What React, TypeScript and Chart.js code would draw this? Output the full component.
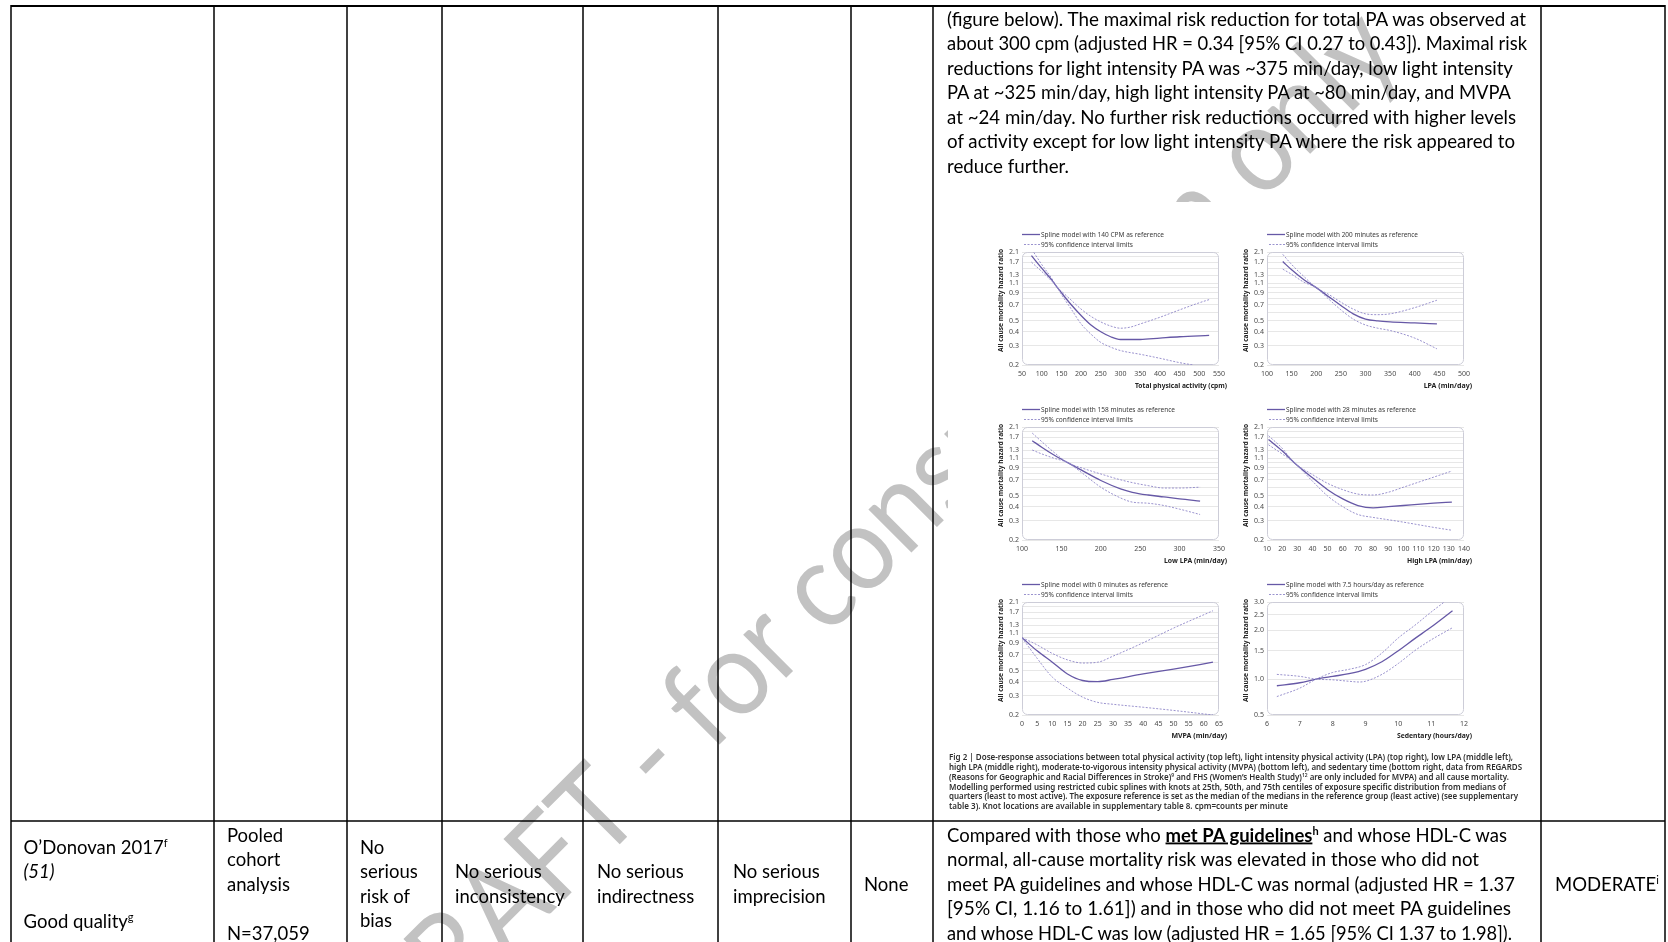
import React, { useEffect, useRef } from 'react';
import { Chart, registerables } from 'chart.js';

Chart.register(...registerables);
Chart.defaults.font.family = "'Noto Sans', 'DejaVu Sans', sans-serif";

// ---------- data ----------
const hrTickValues = [0.2, 0.3, 0.4, 0.5, 0.6, 0.7, 0.8, 0.9, 1.0, 1.1, 1.3, 1.5, 1.7, 1.9, 2.1];
const hrTickLabels = ['0.2', '0.3', '0.4', '0.5', '', '0.7', '', '0.9', '', '1.1', '1.3', '', '1.7', '', '2.1'];
const sedTickValues = [0.6, 1, 1.5, 2, 2.5, 3];
const sedTickLabels = ['0.5', '1.0', '1.5', '2.0', '2.5', '3.0'];

const tpaXTicks = [50, 100, 150, 200, 250, 300, 350, 400, 450, 500, 550];
const lpaXTicks = [100, 150, 200, 250, 300, 350, 400, 450, 500];
const lowXTicks = [100, 150, 200, 250, 300, 350];
const highXTicks = [10, 20, 30, 40, 50, 60, 70, 80, 90, 100, 110, 120, 130, 140];
const mvpaXTicks = [0, 5, 10, 15, 20, 25, 30, 35, 40, 45, 50, 55, 60, 65];
const sedXTicks = [6, 7, 8, 9, 10, 11, 12];

// Total physical activity (cpm)
const tpaX = [74, 100, 125, 140, 150, 175, 200, 225, 250, 275, 300, 350, 400, 450, 525];
const tpaSpline = [1.95, 1.5, 1.18, 1.0, 0.9, 0.7, 0.56, 0.46, 0.4, 0.36, 0.34, 0.34, 0.35, 0.36, 0.37];
const tpaUpX = [80, 100, 125, 140, 150, 175, 200, 225, 250, 275, 300, 325, 350, 400, 450, 500, 525];
const tpaUpper = [2.08, 1.62, 1.22, 1.0, 0.93, 0.77, 0.64, 0.55, 0.49, 0.45, 0.43, 0.44, 0.47, 0.54, 0.63, 0.73, 0.78];
const tpaLoX = [74, 100, 125, 140, 150, 175, 200, 225, 250, 275, 300, 350, 400, 450, 485];
const tpaLower = [1.7, 1.4, 1.15, 1.0, 0.87, 0.64, 0.47, 0.38, 0.32, 0.29, 0.27, 0.25, 0.23, 0.21, 0.2];

// LPA (min/day)
const lpaX = [132, 150, 175, 200, 225, 250, 275, 300, 325, 350, 400, 445];
const lpaSpline = [1.72, 1.45, 1.18, 1.0, 0.83, 0.69, 0.58, 0.52, 0.5, 0.49, 0.48, 0.47];
const lpaUpper = [2.0, 1.62, 1.26, 1.0, 0.87, 0.74, 0.64, 0.58, 0.57, 0.58, 0.66, 0.77];
const lpaLower = [1.47, 1.32, 1.12, 1.0, 0.79, 0.63, 0.52, 0.46, 0.43, 0.41, 0.35, 0.28];

// Low LPA (min/day)
const lowX = [113, 125, 140, 158, 175, 200, 225, 240, 260, 280, 300, 326];
const lowSpline = [1.58, 1.38, 1.18, 1.0, 0.86, 0.69, 0.58, 0.54, 0.51, 0.49, 0.47, 0.45];
const lowUpper = [1.85, 1.55, 1.25, 1.0, 0.9, 0.79, 0.7, 0.66, 0.62, 0.59, 0.59, 0.6];
const lowLower = [1.3, 1.2, 1.1, 1.0, 0.82, 0.6, 0.48, 0.44, 0.43, 0.41, 0.38, 0.34];

// High LPA (min/day)
const highX = [11, 20, 28, 40, 50, 60, 70, 80, 90, 100, 120, 132];
const highSpline = [1.62, 1.28, 1.0, 0.73, 0.57, 0.47, 0.41, 0.39, 0.4, 0.41, 0.43, 0.44];
const highUpper = [1.75, 1.35, 1.0, 0.78, 0.65, 0.57, 0.52, 0.51, 0.54, 0.6, 0.74, 0.84];
const highLower = [1.45, 1.2, 1.0, 0.68, 0.5, 0.4, 0.34, 0.32, 0.305, 0.29, 0.26, 0.245];

// MVPA (min/day)
const mvpaX = [0, 5, 10, 15, 20, 25, 30, 40, 50, 63];
const mvpaSpline = [1.0, 0.76, 0.6, 0.47, 0.41, 0.4, 0.42, 0.47, 0.52, 0.6];
const mvpaUpper = [1.0, 0.86, 0.72, 0.63, 0.59, 0.6, 0.68, 0.9, 1.22, 1.75];
const mvpaLower = [1.0, 0.65, 0.44, 0.35, 0.29, 0.26, 0.25, 0.235, 0.22, 0.2];

// Sedentary (hours/day)
const sedX = [6.3, 7, 7.5, 8, 8.5, 9, 9.5, 10, 10.5, 11, 11.65];
const sedSpline = [0.91, 0.95, 1.0, 1.04, 1.08, 1.15, 1.28, 1.5, 1.78, 2.1, 2.65];
const sedAX = [6.3, 7, 7.5, 8, 8.5, 9, 9.5, 10, 10.5, 11, 11.4];
const sedLimitA = [0.78, 0.88, 1.0, 1.1, 1.15, 1.23, 1.45, 1.8, 2.15, 2.6, 3.0];
const sedBX = [6.3, 7, 7.5, 8, 8.5, 8.8, 9, 9.5, 10, 10.5, 11, 11.65];
const sedLimitB = [1.07, 1.04, 1.0, 0.99, 0.97, 0.96, 0.97, 1.07, 1.25, 1.5, 1.75, 2.08];

const SOLID = '#6658a6';
const DASH = '#8f87c8';
const GRID = '#dcdcdc';
const TICK = '#4a4a4a';

type Cfg = {
  legend: string; legendW: number; xTitle: string; xTitleW: number;
  xMin: number; xMax: number; xTicks: number[];
  yMin: number; yMax: number; yTicks: number[]; yLabels: string[];
  s: [number[], number[]]; u: [number[], number[]]; l: [number[], number[]];
};

const chartCfgs: Cfg[] = [
  { legend: 'Spline model with 140 CPM as reference', legendW: 123, xTitle: 'Total physical activity (cpm)', xTitleW: 92,
    xMin: 50, xMax: 550, xTicks: tpaXTicks, yMin: 0.2, yMax: 2.1, yTicks: hrTickValues, yLabels: hrTickLabels,
    s: [tpaX, tpaSpline], u: [tpaUpX, tpaUpper], l: [tpaLoX, tpaLower] },
  { legend: 'Spline model with 200 minutes as reference', legendW: 132, xTitle: 'LPA (min/day)', xTitleW: 58,
    xMin: 100, xMax: 500, xTicks: lpaXTicks, yMin: 0.2, yMax: 2.1, yTicks: hrTickValues, yLabels: hrTickLabels,
    s: [lpaX, lpaSpline], u: [lpaX, lpaUpper], l: [lpaX, lpaLower] },
  { legend: 'Spline model with 158 minutes as reference', legendW: 134, xTitle: 'Low LPA (min/day)', xTitleW: 63,
    xMin: 100, xMax: 350, xTicks: lowXTicks, yMin: 0.2, yMax: 2.1, yTicks: hrTickValues, yLabels: hrTickLabels,
    s: [lowX, lowSpline], u: [lowX, lowUpper], l: [lowX, lowLower] },
  { legend: 'Spline model with 28 minutes as reference', legendW: 130, xTitle: 'High LPA (min/day)', xTitleW: 65,
    xMin: 10, xMax: 140, xTicks: highXTicks, yMin: 0.2, yMax: 2.1, yTicks: hrTickValues, yLabels: hrTickLabels,
    s: [highX, highSpline], u: [highX, highUpper], l: [highX, highLower] },
  { legend: 'Spline model with 0 minutes as reference', legendW: 127, xTitle: 'MVPA (min/day)', xTitleW: 56,
    xMin: 0, xMax: 65, xTicks: mvpaXTicks, yMin: 0.2, yMax: 2.1, yTicks: hrTickValues, yLabels: hrTickLabels,
    s: [mvpaX, mvpaSpline], u: [mvpaX, mvpaUpper], l: [mvpaX, mvpaLower] },
  { legend: 'Spline model with 7.5 hours/day as reference', legendW: 138, xTitle: 'Sedentary (hours/day)', xTitleW: 75,
    xMin: 6, xMax: 12, xTicks: sedXTicks, yMin: 0.6, yMax: 3.0, yTicks: sedTickValues, yLabels: sedTickLabels,
    s: [sedX, sedSpline], u: [sedAX, sedLimitA], l: [sedBX, sedLimitB] },
];

const CI_LABEL = '95% confidence interval limits';
const Y_TITLE = 'All cause mortality hazard ratio';

const topCellLines = [
  '(figure below). The maximal risk reduction for total PA was observed at',
  'about 300 cpm (adjusted HR = 0.34 [95% CI 0.27 to 0.43]). Maximal risk',
  'reductions for light intensity PA was ~375 min/day, low light intensity',
  'PA at ~325 min/day, high light intensity PA at ~80 min/day, and MVPA',
  'at ~24 min/day. No further risk reductions occurred with higher levels',
  'of activity except for low light intensity PA where the risk appeared to',
  'reduce further.',
];
const topCellWidths = [579, 580, 566, 564, 569, 568, 122];

const captionLines = [
  'Fig 2 | Dose-response associations between total physical activity (top left), light intensity physical activity (LPA) (top right), low LPA (middle left),',
  'high LPA (middle right), moderate-to-vigorous intensity physical activity (MVPA) (bottom left), and sedentary time (bottom right, data from REGARDS',
  '',
  'Modelling performed using restricted cubic splines with knots at 25th, 50th, and 75th centiles of exposure specific distribution from medians of',
  'quarters (least to most active). The exposure reference is set as the median of the medians in the reference group (least active) (see supplementary',
  'table 3). Knot locations are available in supplementary table 8. cpm=counts per minute',
];
const captionWidths = [564, 573, 560, 557, 569, 339];

const resultLines = [
  '',
  'normal, all-cause mortality risk was elevated in those who did not',
  'meet PA guidelines and whose HDL-C was normal (adjusted HR = 1.37',
  '[95% CI, 1.16 to 1.61]) and in those who did not meet PA guidelines',
  'and whose HDL-C was low (adjusted HR = 1.65 [95% CI 1.37 to 1.98]).',
];
const resultWidths = [560, 532, 568, 564, 565];

const columnLines = [11, 214, 347, 442, 583, 718, 851, 933, 1541, 1665];

// ---------- chart ----------
function SmallChart({ cfg, left, top }: { cfg: Cfg; left: number; top: number }) {
  const ref = useRef<HTMLCanvasElement>(null);
  useEffect(() => {
    const canvas = ref.current!;
    const labelMap = new Map<number, string>(cfg.yTicks.map((v, i) => [v, cfg.yLabels[i]]));
    const pts = (xs: number[], ys: number[]) => xs.map((x, i) => ({ x, y: ys[i] }));
    const deco = {
      id: 'deco',
      beforeDatasetsDraw(chart: any) {
        const { ctx, chartArea: a } = chart;
        ctx.save();
        ctx.strokeStyle = '#cdcdd8';
        ctx.lineWidth = 1;
        ctx.beginPath();
        (ctx as any).roundRect(a.left + 0.5, a.top + 0.5, a.right - a.left - 1, a.bottom - a.top - 1, 5);
        ctx.stroke();
        ctx.restore();
      },
      afterDraw(chart: any) {
        const { ctx, chartArea: a } = chart;
        ctx.save();
        ctx.strokeStyle = SOLID;
        ctx.lineWidth = 1.3;
        ctx.beginPath(); ctx.moveTo(42, 14.5); ctx.lineTo(60, 14.5); ctx.stroke();
        ctx.strokeStyle = DASH;
        ctx.lineWidth = 0.9;
        ctx.setLineDash([2, 1.5]);
        ctx.beginPath(); ctx.moveTo(44, 24.5); ctx.lineTo(60, 24.5); ctx.stroke();
        ctx.setLineDash([]);
        ctx.fillStyle = '#3a3a3a';
        ctx.font = "7px 'Noto Sans', sans-serif";
        ctx.textBaseline = 'middle';
        ctx.textAlign = 'left';
        ctx.fillText(cfg.legend, 61, 14.5, cfg.legendW);
        ctx.fillText(CI_LABEL, 61, 24.5, 92);
        ctx.fillStyle = '#222';
        ctx.font = "bold 7px 'Noto Sans', sans-serif";
        ctx.textAlign = 'right';
        ctx.fillText(cfg.xTitle, a.right + 8, 166, cfg.xTitleW);
        ctx.translate(21, a.top - 3);
        ctx.rotate(-Math.PI / 2);
        ctx.textAlign = 'right';
        ctx.fillText(Y_TITLE, 0, 0, 103);
        ctx.restore();
      },
    };
    const chart = new Chart(canvas, {
      type: 'line',
      data: {
        datasets: [
          { data: pts(cfg.u[0], cfg.u[1]), borderColor: DASH, borderWidth: 0.9, borderDash: [2, 1.5], pointRadius: 0, cubicInterpolationMode: 'monotone', fill: false },
          { data: pts(cfg.l[0], cfg.l[1]), borderColor: DASH, borderWidth: 0.9, borderDash: [2, 1.5], pointRadius: 0, cubicInterpolationMode: 'monotone', fill: false },
          { data: pts(cfg.s[0], cfg.s[1]), borderColor: SOLID, borderWidth: 1.3, pointRadius: 0, cubicInterpolationMode: 'monotone', fill: false },
        ],
      },
      options: {
        animation: false,
        responsive: false,
        events: [],
        layout: { padding: { left: 0, right: 13, top: 32, bottom: 0 } },
        plugins: { legend: { display: false }, tooltip: { enabled: false } },
        scales: {
          x: {
            type: 'linear', min: cfg.xMin, max: cfg.xMax,
            afterBuildTicks: (s: any) => { s.ticks = cfg.xTicks.map((v) => ({ value: v })); },
            ticks: { autoSkip: false, maxRotation: 0, padding: 5, font: { size: 7 }, color: TICK },
            grid: { display: false, drawTicks: false },
            border: { display: false },
            afterFit: (s: any) => { s.height = 30; },
          },
          y: {
            type: 'logarithmic', min: cfg.yMin, max: cfg.yMax,
            afterBuildTicks: (s: any) => { s.ticks = cfg.yTicks.map((v) => ({ value: v })); },
            ticks: { autoSkip: false, padding: 3, font: { size: 7 }, color: TICK, callback: (v: any) => labelMap.get(Number(v)) ?? '' },
            grid: { color: GRID, lineWidth: 0.7, drawTicks: false },
            border: { display: false },
            afterFit: (s: any) => { s.width = 42; },
          },
        },
      } as any,
      plugins: [deco],
    });
    return () => chart.destroy();
  }, [cfg]);
  return <canvas ref={ref} width={252} height={175} style={{ position: 'absolute', left, top, width: 252, height: 175 }} />;
}

const FONT = "Lato, 'Open Sans', sans-serif";
const B = 3; // baseline shift for body text

export default function App() {
  const chartLefts = [980, 1225];
  const chartTops = [220, 395, 570];
  return (
    <div style={{ position: 'fixed', left: 0, top: 0, width: 1668, height: 942, overflow: 'hidden', background: '#fff' }}>
      <svg width={1668} height={942} style={{ position: 'absolute', left: 0, top: 0, zIndex: 0 }}>
        <text x={399} y={1065} transform="rotate(-45 399 1065)" fontFamily={FONT} fontSize={120} fill="#c2c2c2"
          textLength={1423} lengthAdjust="spacingAndGlyphs">DRAFT - for consultation only</text>
      </svg>
      <div style={{ position: 'absolute', left: 948, top: 202, width: 585, height: 613, background: '#fff', zIndex: 1 }} />
      <div style={{ position: 'absolute', left: 0, top: 0, zIndex: 2 }}>
        {chartCfgs.map((c, i) => (
          <SmallChart key={i} cfg={c} left={chartLefts[i % 2]} top={chartTops[Math.floor(i / 2)]} />
        ))}
      </div>
      <svg width={1668} height={942} style={{ position: 'absolute', left: 0, top: 0, zIndex: 3, pointerEvents: 'none' }}>
        <line x1={11} x2={1665} y1={6} y2={6} stroke="#000" strokeWidth={2} />
        <line x1={11} x2={1665} y1={821} y2={821} stroke="#000" strokeWidth={1.5} />
        {columnLines.map((x) => (
          <line key={x} x1={x} x2={x} y1={5} y2={942} stroke="#000" strokeWidth={1.5} />
        ))}
        <g fontFamily={FONT} fontSize={18.5} fill="#000" style={{ whiteSpace: 'pre' }}>
          {topCellLines.map((t, i) => (
            <text key={i} x={947} y={22.7 + B + 24.5 * i} textLength={topCellWidths[i]} lengthAdjust="spacingAndGlyphs">{t}</text>
          ))}
          <text x={23.5} y={850.5 + B}>O’Donovan 2017<tspan fontSize={11} dy={-7}>f</tspan></text>
          <text x={23.5} y={875 + B} fontStyle="italic">(51)</text>
          <text x={23.5} y={924.5 + B}>Good quality<tspan fontSize={11} dy={-7}>g</tspan></text>

          <text x={227} y={838.5 + B}>Pooled</text>
          <text x={227} y={863 + B}>cohort</text>
          <text x={227} y={887.5 + B}>analysis</text>
          <text x={227} y={936.5 + B}>N=37,059</text>

          <text x={360} y={850.5 + B}>No</text>
          <text x={360} y={875 + B}>serious</text>
          <text x={360} y={899.5 + B}>risk of</text>
          <text x={360} y={924 + B}>bias</text>

          <text x={455} y={875 + B}>No serious</text>
          <text x={455} y={899.5 + B}>inconsistency</text>
          <text x={597} y={875 + B}>No serious</text>
          <text x={597} y={899.5 + B}>indirectness</text>
          <text x={733} y={875 + B}>No serious</text>
          <text x={733} y={899.5 + B}>imprecision</text>
          <text x={864} y={887.5 + B}>None</text>

          <text x={947} y={838.5 + B} textLength={resultWidths[0]} lengthAdjust="spacingAndGlyphs">
            Compared with those who <tspan fontWeight="bold" style={{ textDecoration: 'underline' }}>met PA guidelines</tspan>
            <tspan fontWeight="bold" fontSize={11} dy={-7}>h</tspan><tspan dy={7}> and whose HDL-C was</tspan>
          </text>
          {resultLines.map((t, i) => (i === 0 ? null : (
            <text key={i} x={947} y={838.5 + B + 24.5 * i} textLength={resultWidths[i]} lengthAdjust="spacingAndGlyphs">{t}</text>
          )))}
          <text x={1555} y={887.5 + B}>MODERATE<tspan fontSize={11} dy={-7}>i</tspan></text>
        </g>
        <g fontFamily="'Noto Sans', Roboto, sans-serif" fontWeight={600} fontSize={8} fill="#2e2e2e" style={{ whiteSpace: 'pre' }}>
          {captionLines.map((t, i) => (i === 2 ? (
            <text key={i} x={949} y={760 + 9.85 * i} textLength={captionWidths[i]} lengthAdjust="spacingAndGlyphs">
              (Reasons for Geographic and Racial Differences in Stroke)<tspan fontSize={5} dy={-3}>9</tspan><tspan dy={3}> and FHS (Women’s Health Study)</tspan><tspan fontSize={5} dy={-3}>12</tspan><tspan dy={3}> are only included for MVPA) and all cause mortality.</tspan>
            </text>
          ) : (
            <text key={i} x={949} y={760 + 9.85 * i} textLength={captionWidths[i]} lengthAdjust="spacingAndGlyphs">{t}</text>
          )))}
        </g>
      </svg>
    </div>
  );
}
